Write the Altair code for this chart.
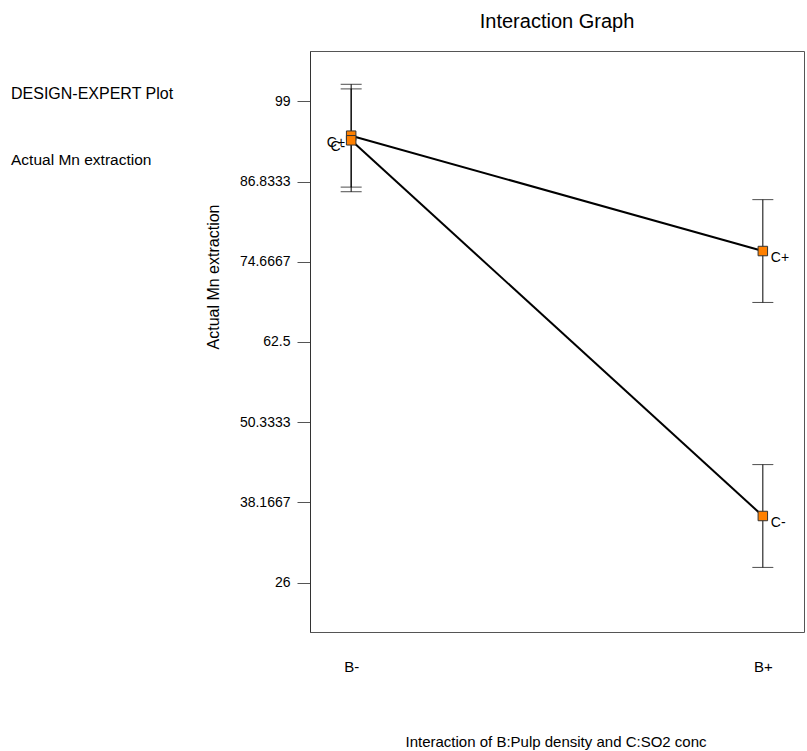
import altair as alt
import pandas as pd

# ---- data ----
b_levels = ["B-", "B+"]
b_coded = [-1, 1]
c_plus_mean = [93.8, 76.3]
c_minus_mean = [93.1, 36.1]
c_plus_half = [7.8, 7.8]
c_minus_half = [7.8, 7.8]
series_names = ["C+", "C-"]
y_ticks = [26, 38.1667, 50.3333, 62.5, 74.6667, 86.8333, 99]

title_text = "Interaction Graph"
y_title = "Actual Mn extraction"
x_title = "Interaction of B:Pulp density and C:SO2 conc"
side_texts = ["DESIGN-EXPERT Plot", "Actual Mn extraction"]

rows = []
for name, means, halves in [("C+", c_plus_mean, c_plus_half), ("C-", c_minus_mean, c_minus_half)]:
    for lvl, b, m, h in zip(b_levels, b_coded, means, halves):
        rows.append({"series": name, "level": lvl, "b": b, "mean": m, "lo": m - h, "hi": m + h})
df = pd.DataFrame(rows)

FONT = "Liberation Sans"

x_enc = alt.X("b:Q", scale=alt.Scale(domain=[-1.2, 1.2], nice=False, zero=False),
              axis=alt.Axis(values=b_coded, labelExpr="datum.value < 0 ? 'B-' : 'B+'",
                            ticks=False, tickSize=0, domain=False, grid=False, title=None,
                            labelPadding=27, labelFontSize=15, labelFont=FONT,
                            labelColor="black"))
y_scale = alt.Scale(domain=[18.5, 106.65], nice=False, zero=False)
y_axis = alt.Axis(values=y_ticks, format=".6~g", tickSize=13, tickColor="#555",
                  labelPadding=7, labelFontSize=14, labelFont=FONT, labelColor="black",
                  grid=False, domain=True, domainColor="#333", title=None)

base = alt.Chart(df)

bars = base.mark_rule(color="black", strokeWidth=1).encode(
    x=x_enc, y=alt.Y("lo:Q", scale=y_scale, axis=y_axis), y2="hi:Q")
cap_lo = base.mark_tick(orient="horizontal", size=21, thickness=1, color="black").encode(
    x=x_enc, y=alt.Y("lo:Q", scale=y_scale, axis=y_axis))
cap_hi = base.mark_tick(orient="horizontal", size=21, thickness=1, color="black").encode(
    x=x_enc, y=alt.Y("hi:Q", scale=y_scale, axis=y_axis))
lines = base.mark_line(color="black", strokeWidth=2).encode(
    x=x_enc, y=alt.Y("mean:Q", scale=y_scale, axis=y_axis), detail="series:N")
points = base.mark_point(shape="square", filled=True, fill="#FF8000", stroke="#333",
                         strokeWidth=1, size=90, opacity=1).encode(
    x=x_enc, y=alt.Y("mean:Q", scale=y_scale, axis=y_axis))
lab_right = base.transform_filter("datum.b > 0").mark_text(
    align="left", baseline="middle", dx=8, dy=7, fontSize=14, font=FONT, color="black").encode(
    x=x_enc, y=alt.Y("mean:Q", scale=y_scale, axis=y_axis), text="series:N")
lab_left = base.transform_filter("datum.b < 0").mark_text(
    align="right", baseline="middle", dx=-6, dy=7, fontSize=14, font=FONT, color="black").encode(
    x=x_enc, y=alt.Y("mean:Q", scale=y_scale, axis=y_axis), text="series:N")

def free_text(txt, x, y, size, align="center", angle=0, baseline="alphabetic"):
    return alt.Chart(pd.DataFrame({"t": [txt]})).mark_text(
        align=align, baseline=baseline, fontSize=size, font=FONT, color="black", angle=angle
    ).encode(x=alt.value(x), y=alt.value(y), text="t:N")

t_title = free_text(title_text, 247, -23, 20)
t_ytitle = free_text(y_title, -96, 226, 16, angle=270, baseline="middle")
t_xtitle = free_text(x_title, 246, 696, 15)
t_side1 = free_text(side_texts[0], -299, 48, 16, align="left")
t_side2 = free_text(side_texts[1], -299, 114, 15.5, align="left")

chart = alt.layer(
    bars, cap_lo, cap_hi, lines, points, lab_left, lab_right,
    t_title, t_ytitle, t_xtitle, t_side1, t_side2
).properties(
    width=494, height=581,
    autosize=alt.AutoSizeParams(type="none"),
    padding={"left": 310, "top": 51, "right": 3, "bottom": 119},
).configure_view(stroke="#555", strokeWidth=1)

chart.save("out.html", embed_options={"renderer": "svg", "actions": False})
